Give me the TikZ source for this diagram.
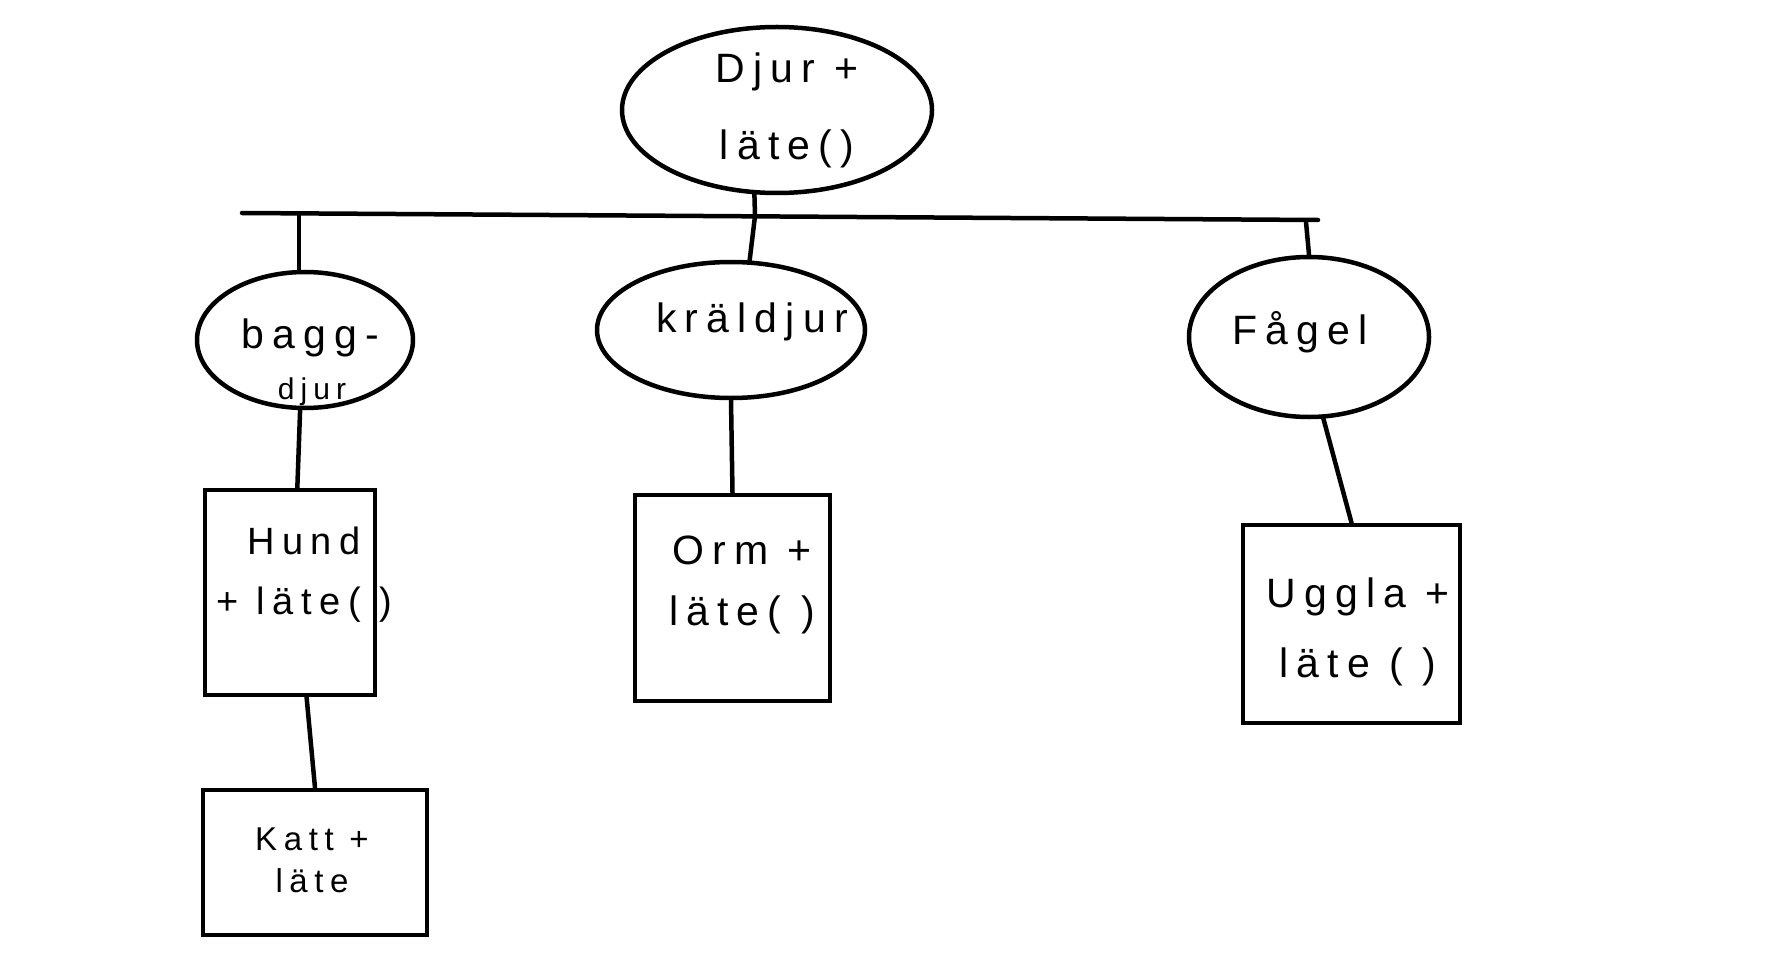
\documentclass[tikz,border=0pt]{standalone}
\usepackage{fontspec}
\setmainfont{Liberation Sans}
\newfontfamily\hand{Liberation Sans}[LetterSpace=20]
\usetikzlibrary{shapes.geometric}
\begin{document}
\begin{tikzpicture}[x=1pt,y=-1pt, line width=4.5pt,
  ell/.style={draw, ellipse, inner sep=0pt},
  boxn/.style={draw, rectangle, inner sep=0pt},
  lbl/.style={font=\hand\fontsize{41}{#1}\selectfont, align=center, inner sep=0pt},
  lbl/.default=60,
  link/.style={line cap=round}]
\useasboundingbox (0,0) rectangle (1776,968);
\fill[white] (0,0) rectangle (1776,968);

% shapes
\node[ell, minimum width=310pt, minimum height=166pt] (djur) at (777,110) {};
\node[ell, minimum width=216pt, minimum height=136pt] (bagg) at (305,340) {};
\node[ell, minimum width=268pt, minimum height=136pt] (kral) at (731,330) {};
\node[ell, minimum width=240pt, minimum height=160pt] (fagel) at (1309,337) {};
\node[boxn, minimum width=170pt, minimum height=205pt] (hund) at (290,592.5) {};
\node[boxn, minimum width=195pt, minimum height=206pt] (orm) at (732.5,598) {};
\node[boxn, minimum width=217pt, minimum height=198pt] (uggla) at (1351.5,624) {};
\node[boxn, minimum width=224pt, minimum height=145pt] (katt) at (315,862.5) {};

% texts
\node[lbl=77] (djurT) at (787,110) {Djur +\\läte()};
\node[lbl] (baggT) at (310,338) {bagg-};
\node[font=\hand\fontsize{30}{30}\selectfont, inner sep=0pt] (baggT2) at (312,392) {djur};
\node[lbl] (kralT) at (752,322) {kräldjur};
\node[lbl] (fagelT) at (1300,332) {Fågel};
\node[font=\hand\fontsize{38}{60}\selectfont, align=center, inner sep=0pt] (hundT) at (304,575) {Hund\\+ läte( )};
\node[lbl=61] (ormT) at (742,585) {Orm +\\läte( )};
\node[lbl=70] (ugglaT) at (1358,632) {Uggla +\\läte ( )};
\node[font=\hand\fontsize{33}{42}\selectfont, align=center, inner sep=0pt] (kattT) at (312,860) {Katt +\\läte};

% bar
\coordinate (barL) at (242,213);
\coordinate (barR) at (1318,220);
\coordinate (jl) at (299,213.5);
\coordinate (jm) at (755,216);
\coordinate (jr) at (1306,222);
\draw[link] (barL) -- (barR);

% connectors
\draw[link] (djur.255) -- (jm);
\draw[link] (jm) -- (kral.75);
\draw[link] (jl) -- (jl |- bagg.north);
\draw[link] (jr) -- (fagel.north);
\draw[link] (bagg.266) -- (hund.86);
\draw[link] (kral.south) -- (orm.north);
\draw[link] (fagel.280) -- (uggla.north);
\draw[link] (hund.-81) -- (katt.north);
\end{tikzpicture}
\end{document}
